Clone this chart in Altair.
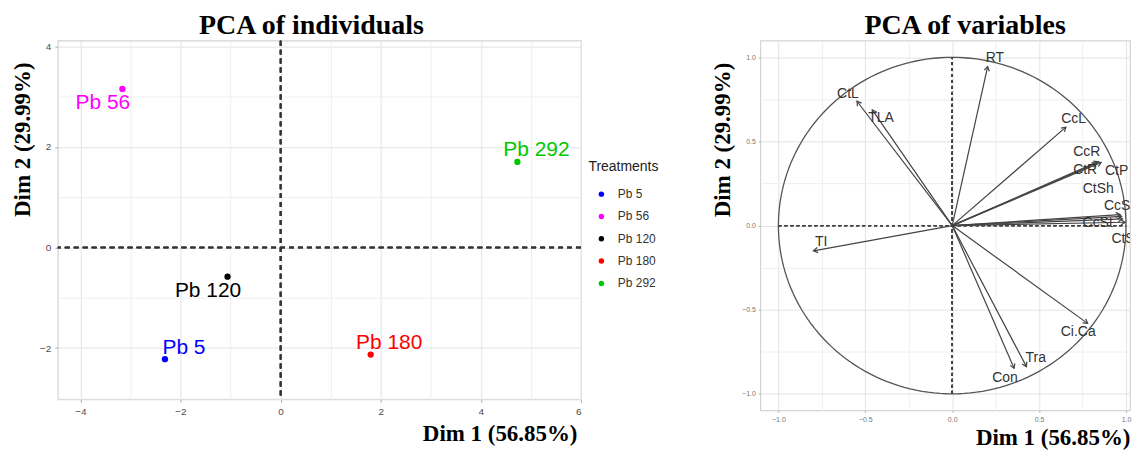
import altair as alt
import pandas as pd

# ---------------- data: individuals ----------------
ind_names = ["Pb 5", "Pb 56", "Pb 120", "Pb 180", "Pb 292"]
ind_x = [-2.31, -3.16, -1.06, 1.80, 4.73]
ind_y = [-2.22, 3.15, -0.58, -2.13, 1.70]
ind_lab_x = [-1.93, -3.55, -1.45, 2.17, 5.11]
ind_lab_y = [-1.99, 2.88, -0.86, -1.89, 1.93]
ind_colors = ["#0000ff", "#ff00ff", "#000000", "#ff0000", "#00c800"]

x1_ticks = [-4, -3, -2, -1, 0, 1, 2, 3, 4, 5, 6]
y1_ticks = [-3, -2, -1, 0, 1, 2, 3, 4]

# ---------------- data: variables ----------------
var_names = ["RT", "CtL", "TLA", "CcL", "CcR", "CtR", "CtP", "CtSh", "CcSh",
             "CcSt", "CtSt", "TI", "Ci.Ca", "Tra", "Con"]
var_x = [0.204, -0.548, -0.46, 0.654, 0.84, 0.83, 0.857, 0.966, 0.975,
         0.98, 0.995, -0.798, 0.779, 0.427, 0.356]
var_y = [0.945, 0.739, 0.688, 0.585, 0.38, 0.37, 0.375, 0.065, 0.055,
         0.04, 0.02, -0.15, -0.581, -0.838, -0.848]
var_lab_x = [0.246, -0.60, -0.41, 0.698, 0.774, 0.765, 0.946, 0.84, 0.971,
             0.837, 0.994, -0.754, 0.725, 0.481, 0.304]
var_lab_y = [0.994, 0.783, 0.638, 0.634, 0.44, 0.328, 0.322, 0.22, 0.117,
             0.018, -0.081, -0.10, -0.634, -0.789, -0.907]

x2_ticks = [-1.0, -0.75, -0.5, -0.25, 0.0, 0.25, 0.5, 0.75, 1.0]
y2_ticks = [-1.0, -0.75, -0.5, -0.25, 0.0, 0.25, 0.5, 0.75, 1.0]

SANS = "Liberation Sans"
SERIF = "Liberation Serif"

df_ind = pd.DataFrame({"name": ind_names, "x": ind_x, "y": ind_y,
                       "lx": ind_lab_x, "ly": ind_lab_y})
df_var = pd.DataFrame({"name": var_names, "vx": var_x, "vy": var_y,
                       "lx": var_lab_x, "ly": var_lab_y})


def make_axis(values, major, label_expr, title, tx, ty, align, tick_size, label_size,
              label_color, angle=None, baseline="alphabetic", label_pad=4):
    kw = dict(values=values, labelExpr=label_expr,
              grid=True,
              gridColor={"condition": {"test": major, "value": "#e3e3e3"}, "value": "#efefef"},
              gridWidth=1,
              tickColor={"condition": {"test": major, "value": "#b0b0b0"}, "value": "rgba(0,0,0,0)"},
              tickSize=tick_size, labelPadding=label_pad, domain=False,
              labelFont=SANS, labelFontSize=label_size, labelColor=label_color,
              title=title, titleFont=SERIF, titleFontSize=23, titleFontWeight="bold",
              titleColor="black", titleX=tx, titleY=ty, titleAlign=align,
              titleBaseline=baseline)
    if angle is not None:
        kw["titleAngle"] = angle
    return alt.Axis(**kw)


# ---------------- left panel ----------------
major1 = "datum.value % 2 === 0"
lab1 = f"{major1} ? datum.label : ''"
W1, H1 = 525, 360
xs1 = alt.Scale(domain=[-4.45, 6.0], nice=False, zero=False)
ys1 = alt.Scale(domain=[-3.02, 4.11], nice=False, zero=False)
col_scale = alt.Scale(domain=ind_names, range=ind_colors)

x1_axis = make_axis(x1_ticks, major1, lab1, "Dim 1 (56.85%)", 521, 41.3, "right",
                    3, 10, "#4d4d4d")
y1_axis = make_axis(y1_ticks, major1, lab1, "Dim 2 (29.99%)", -35.8, 21.3, "right",
                    3, 10, "#4d4d4d", angle=270, baseline="middle")

base1 = alt.Chart(df_ind)
pts1 = base1.mark_circle(size=40, opacity=1).encode(
    x=alt.X("x:Q", scale=xs1, axis=x1_axis),
    y=alt.Y("y:Q", scale=ys1, axis=y1_axis),
    color=alt.Color("name:N", scale=col_scale, legend=alt.Legend(
        title="Treatments", orient="none", legendX=532.5, legendY=120,
        titleFont=SANS, titleFontSize=14, titleFontWeight="normal", titleColor="#222",
        labelFont=SANS, labelFontSize=12, labelColor="#333",
        symbolType="circle", symbolSize=30, symbolOffset=7, labelOffset=10.5,
        rowPadding=10.4, titlePadding=14, padding=0)),
)
labs1 = base1.mark_text(font=SANS, fontSize=21, baseline="middle", align="center").encode(
    x="lx:Q", y="ly:Q", text="name:N",
    color=alt.Color("name:N", scale=col_scale, legend=None),
)
vline1 = alt.Chart(df_ind).mark_rule(strokeDash=[5, 4], color="#333", strokeWidth=1.6).encode(
    x=alt.datum(0))
hline1 = alt.Chart(df_ind).mark_rule(strokeDash=[5, 4], color="#333", strokeWidth=1.6).encode(
    y=alt.datum(0))

left = alt.layer(pts1, vline1, hline1, labs1).properties(
    width=W1, height=H1,
    title=alt.TitleParams("PCA of individuals", font=SERIF, fontSize=28, fontWeight="bold",
                          color="black", anchor="middle", dx=-8, baseline="alphabetic",
                          offset=-22.6),
)

# ---------------- right panel ----------------
major2 = "abs(datum.value * 2 - round(datum.value * 2)) < 0.001"
lab2 = f"{major2} ? format(datum.value, '.1f') : ''"
W2, H2 = 371, 371
xs2 = alt.Scale(domain=[-1.104, 1.023], nice=False, zero=False)
ys2 = alt.Scale(domain=[-1.098, 1.099], nice=False, zero=False)
x2_axis = make_axis(x2_ticks, major2, lab2, "Dim 1 (56.85%)", 371, 34.7, "right",
                    2, 7, "#777", label_pad=3)
y2_axis = make_axis(y2_ticks, major2, lab2, "Dim 2 (29.99%)", -37.7, 21.6, "right",
                    2, 7, "#777", angle=270, baseline="middle", label_pad=3)

circle = alt.Chart(alt.sequence(0, 362, 2, as_="t")).transform_calculate(
    cx="cos(datum.t * PI / 180)", cy="sin(datum.t * PI / 180)"
).mark_line(color="#555", strokeWidth=1.3, clip=True).encode(
    x=alt.X("cx:Q", scale=xs2, axis=x2_axis),
    y=alt.Y("cy:Q", scale=ys2, axis=y2_axis),
    order="t:Q",
)
base2 = alt.Chart(df_var).transform_calculate(
    zero="0", ang="(atan2(datum.vx, datum.vy) * 180 / PI + 360) % 360"
)
arrows = base2.mark_rule(color="#444", strokeWidth=1.2, clip=True).encode(
    x="zero:Q", y="zero:Q", x2="vx:Q", y2="vy:Q")
heads = base2.mark_point(shape="M-0.55,0.9L0,0L0.55,0.9", filled=False, size=90,
                         color="#444", strokeWidth=1.2, opacity=1, clip=True).encode(
    x="vx:Q", y="vy:Q", angle=alt.Angle("ang:Q", scale=None))
labs2 = base2.mark_text(font=SANS, fontSize=14, color="#333", clip=True,
                        baseline="middle", align="center").encode(
    x="lx:Q", y="ly:Q", text="name:N")
vline2 = alt.Chart(df_var).mark_rule(strokeDash=[3, 3], color="#444", strokeWidth=1).encode(
    x=alt.datum(0), y=alt.datum(-1), y2=alt.datum(1))
hline2 = alt.Chart(df_var).mark_rule(strokeDash=[3, 3], color="#444", strokeWidth=1).encode(
    y=alt.datum(0), x=alt.datum(-1), x2=alt.datum(1))

right = alt.layer(circle, vline2, hline2, arrows, heads, labs2).properties(
    width=W2, height=H2,
    title=alt.TitleParams("PCA of variables", font=SERIF, fontSize=28, fontWeight="bold",
                          color="black", anchor="middle", dx=20, baseline="alphabetic",
                          offset=-21.6),
)

chart = alt.hconcat(left, right, spacing=50).resolve_scale(color="independent").properties(
    padding={"left": 2, "top": 3, "right": 0, "bottom": 0}
).configure_view(stroke="#d4d4d4", strokeWidth=1.2)

chart.save("out.html", embed_options={"renderer": "svg", "actions": False})
